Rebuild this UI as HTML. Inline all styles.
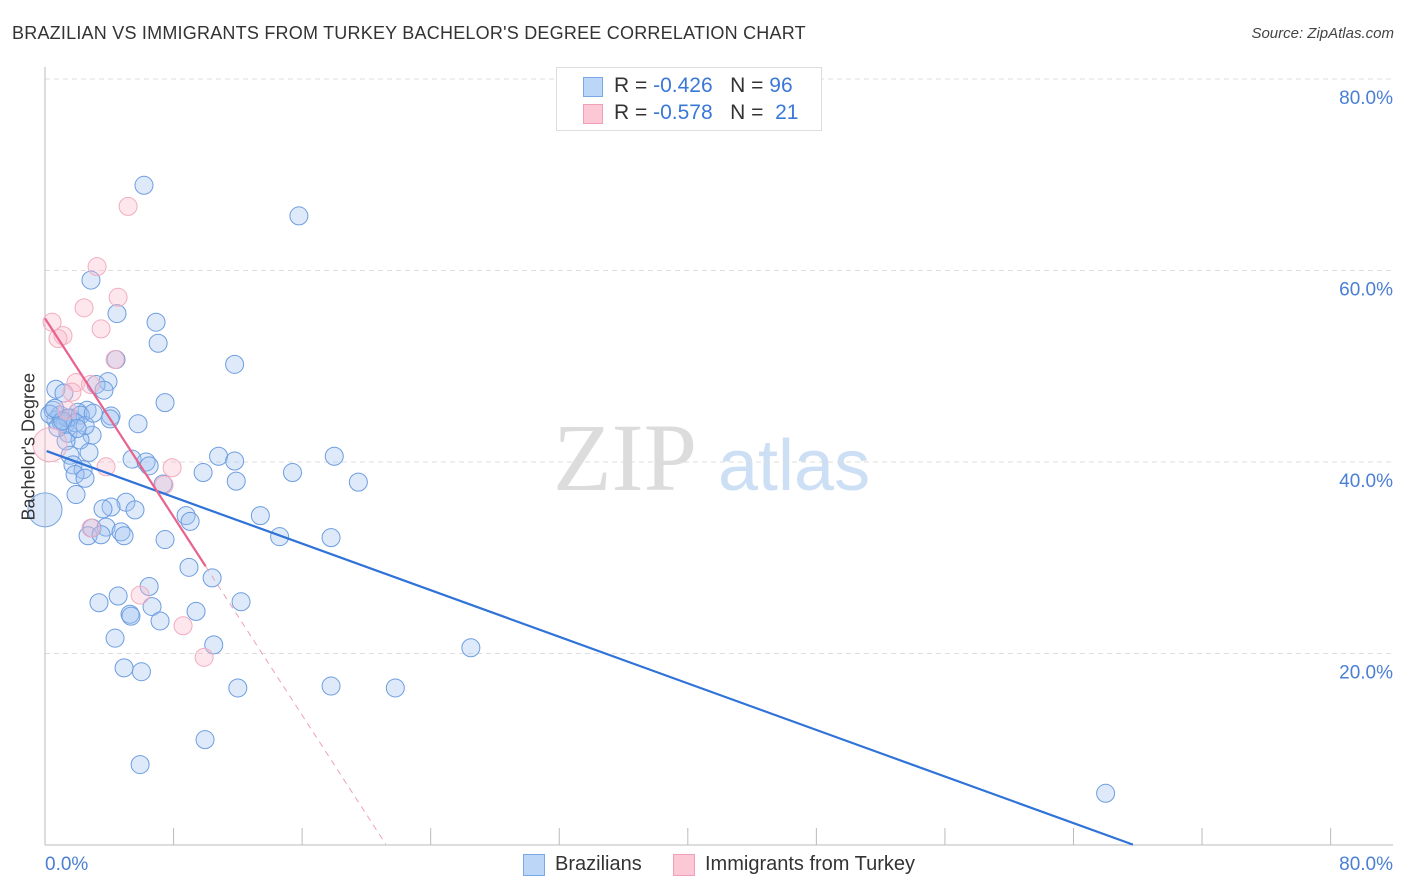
<!DOCTYPE html>
<html><head><meta charset="utf-8"><style>
body{margin:0;background:#fff;font-family:"Liberation Sans",sans-serif;}
#wrap{position:relative;width:1406px;height:892px;overflow:hidden;}
.t{position:absolute;white-space:nowrap;}
</style></head><body>
<div id="wrap">
<div class="t" style="left:12px;top:23px;font-size:18px;color:#333;letter-spacing:0.22px;">BRAZILIAN VS IMMIGRANTS FROM TURKEY BACHELOR'S DEGREE CORRELATION CHART</div>
<div class="t" style="right:12px;top:25px;font-size:15px;color:#444;font-style:italic;">Source: ZipAtlas.com</div>
<svg id="svg" width="1406" height="892" style="position:absolute;left:0;top:0">
<text x="553" y="490" font-family="Liberation Serif,serif" font-size="96" fill="#dcdcdc">ZIP</text>
<text x="718" y="490" font-family="Liberation Sans,sans-serif" font-size="72" fill="#cddff4">atlas</text>
</svg>
<div class="t" style="left:-36px;top:445px;font-size:18px;color:#333;transform:rotate(-90deg);transform-origin:center;width:130px;text-align:center;">Bachelor's Degree</div>
<div style="position:absolute;left:556px;top:67px;width:264px;height:62px;border:1px solid #ddd;background:#fff;">
<div style="position:absolute;left:26px;top:9px;width:18px;height:18px;background:#bcd6f8;border:1px solid #7aa8e6;"></div>
<div style="position:absolute;left:26px;top:36px;width:18px;height:18px;background:#fcc8d6;border:1px solid #f0a0b8;"></div>
<div class="t" style="left:57px;top:6px;font-size:21px;color:#333;">R = <span style="color:#3a78d8">-0.426</span>&nbsp;&nbsp;&nbsp;N = <span style="color:#3a78d8">96</span></div>
<div class="t" style="left:57px;top:33px;font-size:21px;color:#333;">R = <span style="color:#3a78d8">-0.578</span>&nbsp;&nbsp;&nbsp;N = &nbsp;<span style="color:#3a78d8">21</span></div>
</div>
<div>
<div style="position:absolute;left:523px;top:854px;width:20px;height:20px;background:#bcd6f8;border:1px solid #7aa8e6;"></div>
<div class="t" style="left:555px;top:853px;font-size:20px;color:#333;">Brazilians</div>
<div style="position:absolute;left:673px;top:854px;width:20px;height:20px;background:#fcc8d6;border:1px solid #f0a0b8;"></div>
<div class="t" style="left:705px;top:853px;font-size:20px;color:#333;">Immigrants from Turkey</div>
</div>
</div>
<script>
const yTicks=[20,40,60,80];
const yTickLabels=["20.0%","40.0%","60.0%","80.0%"];
const xTickLabels=["0.0%","80.0%"];
const blueX=[6.16,15.8,2.86,4.48,6.91,7.04,11.8,4.42,3.92,3.18,0.68,3.67,1.18,7.47,2.62,0.5,2.05,4.11,4.05,0.93,1.56,0.68,5.79,1.25,2.93,1.43,2.18,1.31,2.74,18.0,10.8,1.56,5.42,6.29,6.48,11.8,1.74,2.37,9.84,15.4,1.87,2.49,11.9,19.5,7.35,1.93,5.04,4.11,3.61,5.6,8.78,9.03,13.4,2.93,3.8,4.73,4.92,2.68,3.49,14.6,17.8,7.47,8.96,10.4,6.48,4.55,3.36,12.2,6.66,9.4,5.29,5.35,7.16,4.36,10.5,26.5,4.92,6.0,17.8,12.0,21.8,9.96,5.92,66.0,0.3,1.0,1.4,2.2,0.8,1.9,2.5,3.0,1.1,2.0,0.6];
const blueY=[68.9,65.7,59.0,55.5,54.6,52.4,50.2,50.7,48.4,48.1,47.6,47.5,47.2,46.2,45.4,45.4,45.2,44.8,44.5,44.9,44.6,44.4,44.0,43.9,42.8,43.0,42.3,42.2,41.0,40.6,40.6,40.7,40.3,40.0,39.6,40.1,39.7,39.2,38.9,38.9,38.7,38.3,38.0,37.9,37.7,36.6,35.8,35.3,35.1,35.0,34.4,33.8,34.4,33.1,33.2,32.7,32.3,32.3,32.4,32.2,32.1,31.9,29.0,27.9,27.0,26.0,25.3,25.4,24.9,24.4,24.1,23.9,23.4,21.6,20.9,20.6,18.5,18.1,16.6,16.4,16.4,11.0,8.4,5.4,45.0,44.2,44.6,44.9,43.6,44.1,43.8,45.1,44.3,43.5,45.6];
const pinkX=[5.17,3.24,4.55,2.43,0.44,3.49,1.12,0.81,4.36,1.93,2.83,1.68,1.37,0.31,3.8,7.91,7.41,2.86,5.92,8.59,9.9];
const pinkY=[66.7,60.4,57.2,56.1,54.6,53.9,53.2,52.9,50.7,48.3,48.1,47.3,45.4,41.8,39.5,39.4,37.6,33.1,26.1,22.9,19.6];
const bigBlue=[0,35.0];
const blueTrend=[41.2,-0.608,0.1,67.7];
const pinkTrend=[55.0,-2.59,0,10.0,21.2];
const NS="http://www.w3.org/2000/svg";
const svg=document.getElementById('svg');
const X=v=>45+v*16.07, Y=v=>845-v*9.575;
function mk(tag,at){const e=document.createElementNS(NS,tag);for(const k in at)e.setAttribute(k,at[k]);svg.appendChild(e);return e;}
yTicks.forEach((t,i)=>{
 const g=mk('line',{x1:45,x2:1393,y1:Y(t),y2:Y(t),stroke:'#ddd','stroke-dasharray':'5,4'});
 
 
 const tx=mk('text',{x:1393,y:Y(t)+25,'text-anchor':'end','font-size':19,fill:'#4a7fd4','font-family':'Liberation Sans,sans-serif'});
 tx.textContent=yTickLabels[i];
 
 
});
const ax=mk('line',{x1:45,x2:45,y1:67,y2:845,stroke:'#bbb'});


const bx=mk('line',{x1:45,x2:1393,y1:845,y2:845,stroke:'#bbb'});


for(let i=0;i<=10;i++){const t=mk('line',{x1:X(i*8),x2:X(i*8),y1:828,y2:845,stroke:'#bbb'});
 
 }
[[0,'start',45],[80,'end',1393]].forEach((a,i)=>{const t=mk('text',{x:a[2],y:870,'text-anchor':a[1],'font-size':19,fill:'#4a7fd4','font-family':'Liberation Sans,sans-serif'});t.textContent=xTickLabels[i];
 
 });
const bb=mk('circle',{cx:X(bigBlue[0]),cy:Y(bigBlue[1]),r:17,fill:'rgba(160,196,240,0.4)',stroke:'#7aa6e2','stroke-width':1});


blueX.forEach((x,i)=>{const c=mk('circle',{cx:X(x),cy:Y(blueY[i]),r:9,fill:'rgba(160,196,240,0.35)',stroke:'#6d9de0','stroke-width':1});
 
 });
pinkX.forEach((x,i)=>{const c=mk('circle',{cx:X(x),cy:Y(pinkY[i]),r:i==13?17:9,fill:i==13?'rgba(248,190,206,0.3)':'rgba(248,185,204,0.35)',stroke:'#f2acc0','stroke-width':1});
 
 });
const bl=mk('line',{x1:X(blueTrend[2]),y1:Y(blueTrend[0]+blueTrend[1]*blueTrend[2]),x2:X(blueTrend[3]),y2:Y(blueTrend[0]+blueTrend[1]*blueTrend[3]),stroke:'#2f72d8','stroke-width':2.2});


const pl=mk('line',{x1:X(pinkTrend[2]),y1:Y(pinkTrend[0]+pinkTrend[1]*pinkTrend[2]),x2:X(pinkTrend[3]),y2:Y(pinkTrend[0]+pinkTrend[1]*pinkTrend[3]),stroke:'#e8628c','stroke-width':2.2});


const pd=mk('line',{x1:X(pinkTrend[3]),y1:Y(pinkTrend[0]+pinkTrend[1]*pinkTrend[3]),x2:X(pinkTrend[4]),y2:Y(pinkTrend[0]+pinkTrend[1]*pinkTrend[4]),stroke:'#eea0b8','stroke-width':1,'stroke-dasharray':'6,5'});


</script>
</body></html>
